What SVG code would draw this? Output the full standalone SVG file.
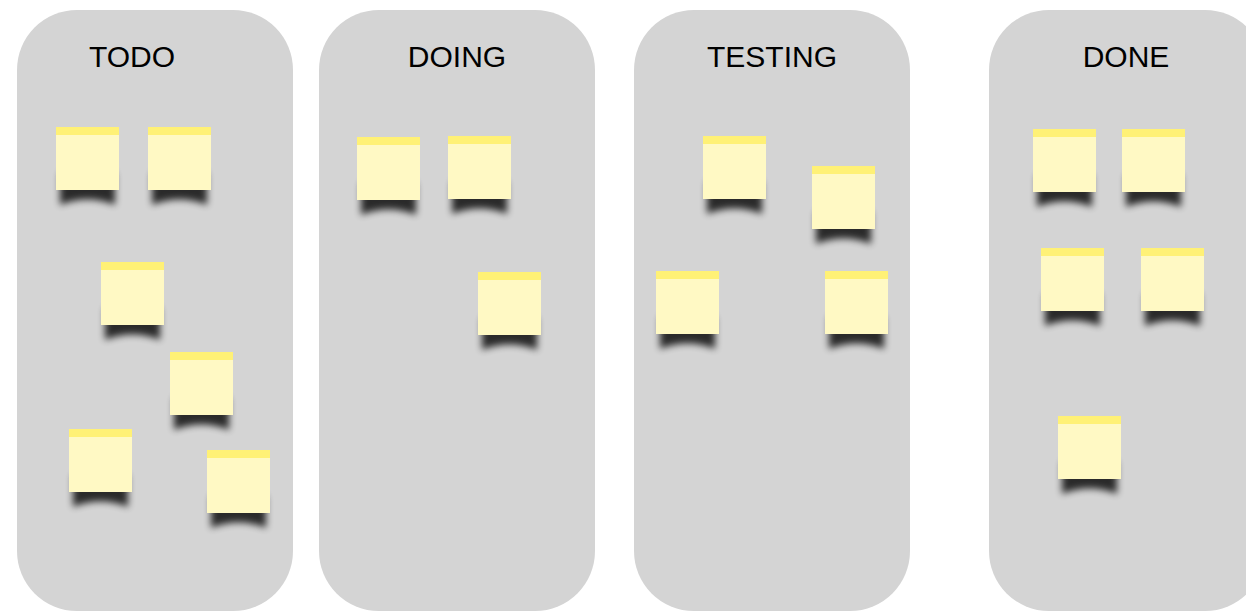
<svg xmlns="http://www.w3.org/2000/svg" xmlns:xlink="http://www.w3.org/1999/xlink" width="1246" height="612" viewBox="0 0 1246 612">
<style>
.col{fill:#d4d4d4}
.lbl{font-family:"Liberation Sans",Arial,sans-serif;font-size:30px;fill:#000;text-anchor:middle}
.body{fill:#fff9c4}
.strip{fill:#fff176}
.shadow{fill:#000;opacity:0.8}
</style>
<defs>
<filter id="blur" x="-40%" y="-40%" width="180%" height="180%"><feGaussianBlur stdDeviation="3.8"/></filter>
<g id="note">
<path class="shadow" filter="url(#blur)" d="M4,46 H59 V78 Q31.5,67 4,78 Z"/>
<rect class="body" x="0" y="0" width="63" height="63"/>
<rect class="strip" x="0" y="0" width="63" height="8"/>
</g>
</defs>
<rect width="1246" height="612" fill="#fff"/>
<g id="col-todo"><rect class="col" x="17" y="10" width="276" height="601" rx="60"/><text class="lbl" x="132" y="67">TODO</text></g>
<g id="col-doing"><rect class="col" x="319" y="10" width="276" height="601" rx="60"/><text class="lbl" x="457" y="67">DOING</text></g>
<g id="col-testing"><rect class="col" x="634" y="10" width="276" height="601" rx="60"/><text class="lbl" x="772" y="67">TESTING</text></g>
<g id="col-done"><rect class="col" x="989" y="10" width="276" height="601" rx="60"/><text class="lbl" x="1126" y="67">DONE</text></g>
<g id="notes">
<g id="note-1" transform="translate(56,127)"><use xlink:href="#note"/></g>
<g id="note-2" transform="translate(148,127)"><use xlink:href="#note"/></g>
<g id="note-3" transform="translate(101,262)"><use xlink:href="#note"/></g>
<g id="note-4" transform="translate(170,352)"><use xlink:href="#note"/></g>
<g id="note-5" transform="translate(69,429)"><use xlink:href="#note"/></g>
<g id="note-6" transform="translate(207,450)"><use xlink:href="#note"/></g>
<g id="note-7" transform="translate(357,137)"><use xlink:href="#note"/></g>
<g id="note-8" transform="translate(448,136)"><use xlink:href="#note"/></g>
<g id="note-9" transform="translate(478,272)"><use xlink:href="#note"/></g>
<g id="note-10" transform="translate(703,136)"><use xlink:href="#note"/></g>
<g id="note-11" transform="translate(812,166)"><use xlink:href="#note"/></g>
<g id="note-12" transform="translate(656,271)"><use xlink:href="#note"/></g>
<g id="note-13" transform="translate(825,271)"><use xlink:href="#note"/></g>
<g id="note-14" transform="translate(1033,129)"><use xlink:href="#note"/></g>
<g id="note-15" transform="translate(1122,129)"><use xlink:href="#note"/></g>
<g id="note-16" transform="translate(1041,248)"><use xlink:href="#note"/></g>
<g id="note-17" transform="translate(1141,248)"><use xlink:href="#note"/></g>
<g id="note-18" transform="translate(1058,416)"><use xlink:href="#note"/></g>
</g>
<g id="connectors"/>
</svg>
